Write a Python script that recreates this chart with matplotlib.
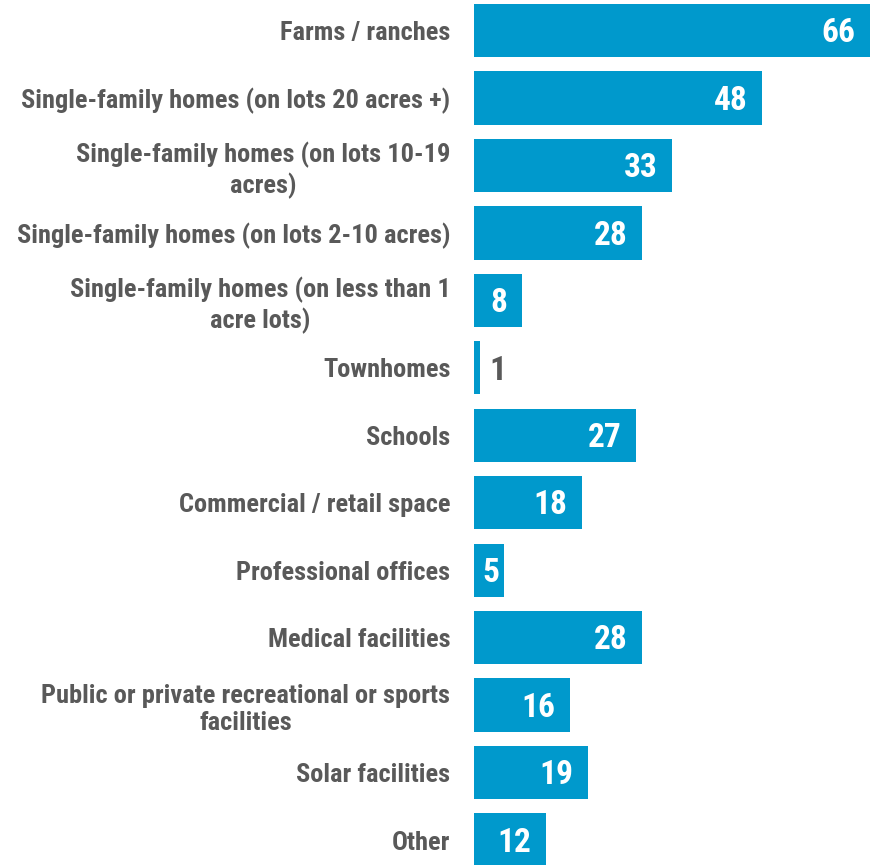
import numpy as np
import matplotlib.pyplot as plt

categories = [
    "Farms / ranches",
    "Single-family homes (on lots 20 acres +)",
    "Single-family homes (on lots 10-19\nacres)",
    "Single-family homes (on lots 2-10 acres)",
    "Single-family homes (on less than 1\nacre lots)",
    "Townhomes",
    "Schools",
    "Commercial / retail space",
    "Professional offices",
    "Medical facilities",
    "Public or private recreational or sports\nfacilities",
    "Solar facilities",
    "Other",
]
values = [66, 48, 33, 28, 8, 1, 27, 18, 5, 28, 16, 19, 12]

bar_color = "#0099CC"
text_grey = "#595959"

# narrow bold face, closest to Arial Narrow
plt.rcParams['font.family'] = ['Liberation Sans Narrow', 'Roboto Condensed', 'DejaVu Sans']
plt.rcParams['font.stretch'] = 'condensed'

fig = plt.figure(figsize=(8.72, 8.65), dpi=100)
ax = fig.add_axes([474 / 872, 0.0, 396 / 872, 1.0])

y = np.arange(len(categories))
ax.barh(y, values, height=0.79, color=bar_color)

ax.set_xlim(0, 66)
ax.set_ylim(12.37, -0.452)

for yi, v in zip(y, values):
    if v >= 5:
        # inside end, but never pushed past the bar's start
        ax.text(max(v - 2.4, 4.3), yi + 0.04, str(v), ha='right', va='center',
                color='white', fontsize=24, fontweight='bold')
    else:
        ax.text(v + 1.6, yi + 0.04, str(v), ha='left', va='center', color=text_grey,
                fontsize=24, fontweight='bold')

ax.set_yticks(y)
ax.set_yticklabels(categories, fontsize=19, fontweight='bold', color=text_grey,
                   multialignment='center')
ax.tick_params(axis='y', length=0, pad=17)
ax.set_xticks([])
for s in ax.spines.values():
    s.set_visible(False)

fig.savefig("out.png", dpi=100)
